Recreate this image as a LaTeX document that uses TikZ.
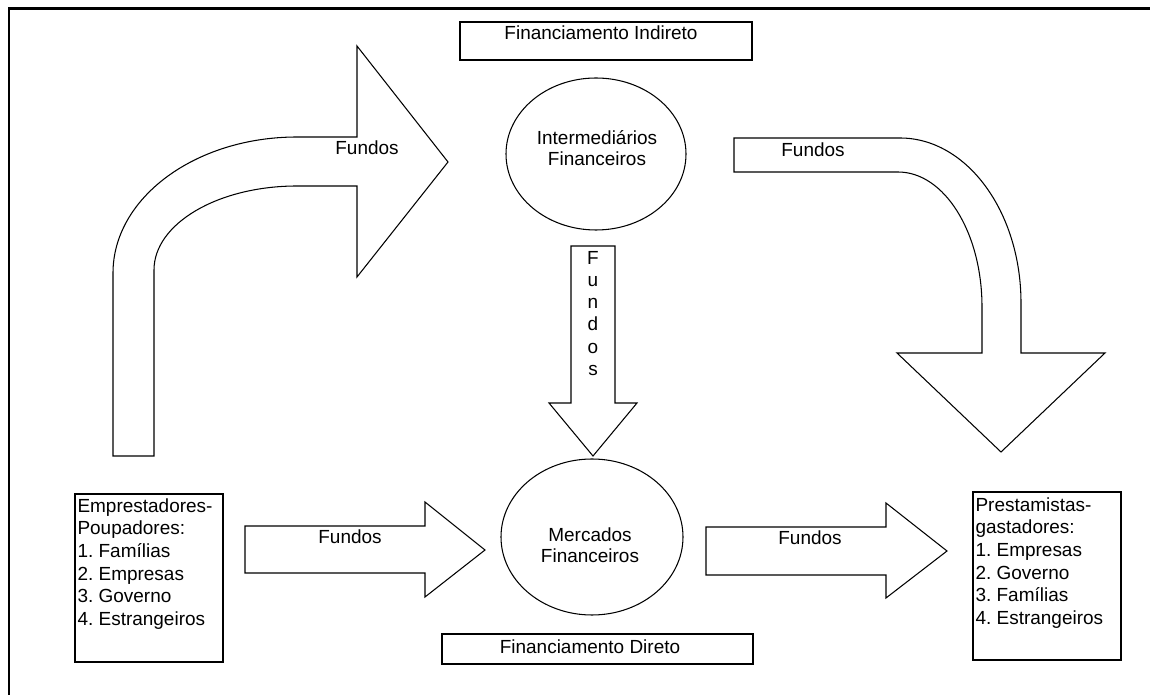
\documentclass[tikz,border=0pt]{standalone}
\usepackage{fontspec}
\setmainfont{Liberation Sans}
\usetikzlibrary{positioning}
\frenchspacing

\begin{document}
\begin{tikzpicture}[x=0.02cm,y=-0.02cm,line width=0.6pt]
	\tikzstyle{every node}+=[inner sep=0pt,font=\fontsize{10.8}{12.9}\selectfont]
	\tikzstyle{lista}=[anchor=north west,align=left]
	\tikzstyle{oval}=[anchor=north,align=center,font=\fontsize{10.8}{11.9}\selectfont]
	\useasboundingbox (0,0) rectangle (1150,695);
	% moldura
	\draw [black,line width=1.7pt] (9,695) -- (9,9) -- (1150,9);
	% financiamento indireto
	\draw [black] (460,22) rectangle (752,60);
	\node (indireto) at (601,33) {Financiamento Indireto};
	\draw [black] (596,154) ellipse (90 and 76);
	\node (interm) [oval] at (597,130) {Intermediários\\Financeiros};
	% seta curva esquerda
	\draw [black] (113,456) -- (113,273) arc (180:270:184 and 136) -- (357,137) -- (357,46) -- (448,162)
		-- (357,277) -- (357,186) -- (297,186) arc (270:180:143 and 84) -- (154,456) -- cycle;
	\node (fundosA) at (367,148) {Fundos};
	% seta curva direita
	\draw [black] (734,138) -- (900,138) arc (270:360:121 and 165) -- (1021,353) -- (1105,353) -- (1001,452)
		-- (897,353) -- (982,353) -- (982,307) arc (0:-90:84 and 135) -- (734,172) -- cycle;
	\node (fundosB) at (813,150) {Fundos};
	% seta vertical
	\draw [black] (571,246) -- (615,246) -- (615,403) -- (637,403) -- (593,456) -- (549,403) -- (571,403) -- cycle;
	\node (fundosC) [align=center,anchor=north,font=\fontsize{10.8}{12.6}\selectfont] at (593,251) {F\\u\\n\\d\\o\\s};
	% poupadores
	\draw [black,line width=0.7pt] (75,494) rectangle (223,662);
	\node (poup) [lista] at (77,498) {Emprestadores-\\Poupadores:\\1. Famílias\\2. Empresas\\3. Governo\\4. Estrangeiros};
	\draw [black] (245,526) -- (425,526) -- (425,502) -- (485,550) -- (425,597) -- (425,573) -- (245,573) -- cycle;
	\node (fundosD) at (350,537) {Fundos};
	% mercados
	\draw [black] (592,537) ellipse (91 and 78);
	\node (merc) [oval] at (590,527) {Mercados\\Financeiros};
	\draw [black] (706,527) -- (886,527) -- (886,503) -- (947,551) -- (886,598) -- (886,575) -- (706,575) -- cycle;
	\node (fundosE) at (810,538) {Fundos};
	% gastadores
	\draw [black,line width=0.7pt] (973,492) rectangle (1121,660);
	\node (gast) [lista] at (975,497) {Prestamistas-\\gastadores:\\1. Empresas\\2. Governo\\3. Famílias\\4. Estrangeiros};
	% financiamento direto
	\draw [black] (442,634) rectangle (753,664);
	\node (direto) at (590,647) {Financiamento Direto};
\end{tikzpicture}
\end{document}
